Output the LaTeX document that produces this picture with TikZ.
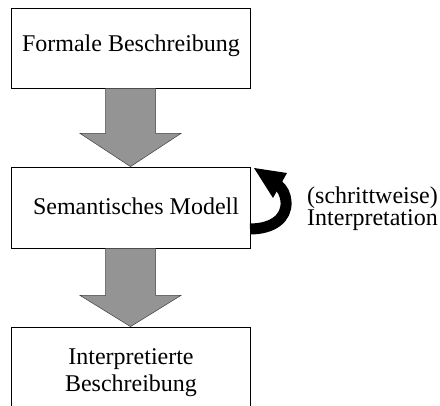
\documentclass[tikz,border=0pt]{standalone}
\usepackage{fontspec}
\setmainfont{Liberation Serif}
\usetikzlibrary{calc}
\begin{document}
\begin{tikzpicture}[x=1pt,y=-1pt,
  box/.style={draw, line width=0.8pt, inner sep=0pt, minimum width=239pt},
  lbl/.style={font=\fontsize{24}{27}\selectfont, inner sep=0pt},
  fatarrow/.style={fill=black!42, draw=black!75, line width=0.5pt},
  loopline/.style={line width=11pt, draw=black},
]
\useasboundingbox (0,0) rectangle (440,406);
\fill[white] (0,0) rectangle (440,406);

% the three stages
\node[box, minimum height=80pt] (f) at (130.5,48) {};
\node[box, minimum height=81pt] (s) at (130.5,207.5) {};
% the last box runs on past the lower edge of the page
\node[box, minimum height=103pt] (i) at (130.5,378.5) {};

\node[lbl, anchor=base] (tf) at (131,52) {Formale Beschreibung};
\node[lbl, anchor=base] (ts) at (136,215) {Semantisches Modell};
\node[lbl, anchor=base] (ti1) at (131,365) {Interpretierte};
\node[lbl, anchor=base] (ti2) at (131,392) {Beschreibung};

% broad shaded arrows between the stages
\filldraw[fatarrow] ($(f.south)+(-25,0)$) -- ($(f.south)+(25,0)$)
  -- ($(f.south)+(25,45)$) -- ($(f.south)+(50.5,45)$) -- (s.north)
  -- ($(f.south)+(-50.5,45)$) -- ($(f.south)+(-25,45)$) -- cycle;
\filldraw[fatarrow] ($(s.south)+(-25,0)$) -- ($(s.south)+(25,0)$)
  -- ($(s.south)+(25,47)$) -- ($(s.south)+(50.5,47)$) -- (i.north)
  -- ($(s.south)+(-50.5,47)$) -- ($(s.south)+(-25,47)$) -- cycle;

% stepwise interpretation loop on the semantic model
\coordinate (ls) at (250,229);
\coordinate (le) at (278,185);
\draw[loopline] (ls) .. controls (273,229) and (287,218) .. (286,202)
  .. controls (285.5,194) and (282.5,189) .. (le);
\fill (254,168) -- (287,173) -- (273,198) -- cycle;

\node[lbl, anchor=base west] (l1) at (307,203.5) {(schrittweise)};
\node[lbl, anchor=base west] (l2) at (307,225.5) {Interpretation};
\end{tikzpicture}
\end{document}
